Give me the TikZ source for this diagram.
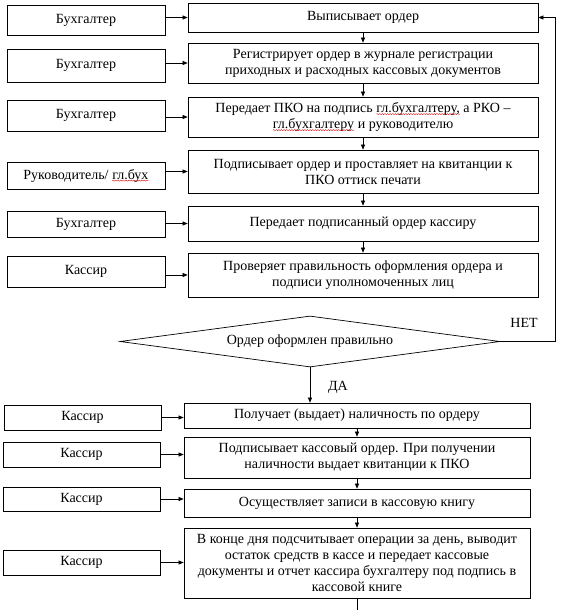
\documentclass[tikz,border=0pt]{standalone}
\usepackage{fontspec}
\setmainfont{Liberation Serif}
\usetikzlibrary{arrows.meta,shapes.geometric,decorations.pathmorphing}
\newcommand{\wavy}[1]{\tikz[baseline=(w.base)]{\node[shape=rectangle,inner sep=0pt,outer sep=0pt,minimum width=0pt,minimum height=0pt,draw=none,anchor=center] (w) at (0,0) {#1};\draw[draw=red!85!black,line width=0.35pt,decorate,decoration={snake,amplitude=0.6pt,segment length=2.6pt}]([yshift=-1.6pt]w.base west)--([yshift=-1.6pt]w.base east);}}
\begin{document}
\begin{tikzpicture}[x=1pt,y=-1pt,
  box/.style={draw=black,line width=0.7pt,inner sep=1pt,align=center,font=\fontsize{14}{16}\selectfont},
  rbox/.style={box,minimum width=350pt},
  rbbox/.style={box,minimum width=346pt},
  lbox/.style={box,minimum width=158pt},
  lbbox/.style={box,minimum width=157pt},
  arr/.style={draw=black,line width=0.6pt,-{Triangle[length=5pt,width=4pt]}},
  ln/.style={draw=black,line width=0.6pt},
  lab/.style={font=\fontsize{14}{16}\selectfont,inner sep=0pt}]
\useasboundingbox (0,0) rectangle (561,610);
% right column, top
\node[rbox,minimum height=29pt] (R1) at (363,17.5) {Выписывает ордер};
\node[rbox,minimum height=40pt] (R2) at (363,63) {Регистрирует ордер в журнале регистрации\\приходных и расходных кассовых документов};
\node[rbox,minimum height=40pt] (R3) at (363,117) {Передает ПКО на подпись \wavy{гл.бухгалтеру,} а РКО –\\\wavy{гл.бухгалтеру} и руководителю};
\node[rbox,minimum height=43pt] (R4) at (363,171.5) {Подписывает ордер и проставляет на квитанции к\\ПКО оттиск печати};
\node[rbox,minimum height=35pt] (R5) at (363,223.5) {Передает подписанный ордер кассиру};
\node[rbox,minimum height=44pt] (R6) at (363,275) {Проверяет правильность оформления ордера и\\подписи уполномоченных лиц};
% left column, top
\node[lbox,minimum height=30pt] (L1) at (86,20) {Бухгалтер};
\node[lbox,minimum height=33pt] (L2) at (86,65.5) {Бухгалтер};
\node[lbox,minimum height=31pt] (L3) at (86,115.5) {Бухгалтер};
\node[lbox,minimum height=27pt] (L4) at (86,175.5) {Руководитель/ \wavy{гл.бух}};
\node[lbox,minimum height=26pt] (L5) at (86,224) {Бухгалтер};
\node[lbox,minimum height=31pt] (L6) at (86,271.5) {Кассир};
% decision
\node[diamond,draw=black,line width=0.7pt,minimum width=380pt,minimum height=51pt,aspect=7.4,inner sep=0pt,font=\fontsize{14}{16}\selectfont] (D) at (310,341.5) {Ордер оформлен правильно};
\node[lab] (net) at (524,323) {НЕТ};
\node[lab] (da) at (338,387) {ДА};
% right column, bottom
\node[rbbox,minimum height=25pt] (R7) at (357,415.5) {Получает (выдает) наличность по ордеру};
\node[rbbox,minimum height=41pt] (R8) at (357,457.5) {Подписывает кассовый ордер. При получении\\наличности выдает квитанции к ПКО};
\node[rbbox,minimum height=28pt] (R9) at (357,503) {Осуществляет записи в кассовую книгу};
\node[rbbox,minimum height=70pt] (R10) at (357,563) {В конце дня подсчитывает операции за день, выводит\\остаток средств в кассе и передает кассовые\\документы и отчет кассира бухгалтеру под подпись в\\кассовой книге};
% left column, bottom
\node[lbbox,minimum height=25pt] (L7) at (82.5,417.5) {Кассир};
\node[lbbox,minimum height=25pt] (L8) at (81.5,454.5) {Кассир};
\node[lbbox,minimum height=24pt] (L9) at (81.5,499) {Кассир};
\node[lbbox,minimum height=25pt] (L10) at (81.5,562.5) {Кассир};
\coordinate (fb) at (555,0);
\coordinate (out) at (357,610);
% horizontal arrows
\draw[arr] (L1.east |- R1.west) -- (R1.west);
\draw[arr] (L2.east |- R2.west) -- (R2.west);
\draw[arr] (L3.east |- R3.west) -- (R3.west);
\draw[arr] (L4.east |- R4.west) -- (R4.west);
\draw[arr] (L5.east |- R5.west) -- (R5.west);
\draw[arr] (L6.east |- R6.west) -- (R6.west);
\draw[arr] (L7.east) -- (L7.east -| R7.west);
\draw[arr] (L8.east) -- (L8.east -| R8.west);
\draw[arr] (L9.east) -- (L9.east -| R9.west);
\draw[arr] (L10.east) -- (L10.east -| R10.west);
% vertical arrows
\draw[arr] (R1.south) -- (R2.north);
\draw[arr] (R2.south) -- (R3.north);
\draw[arr] (R3.south) -- (R4.north);
\draw[arr] (R4.south) -- (R5.north);
\draw[arr] (R5.south) -- (R6.north);
\draw[arr] (D.south) -- (D.south |- R7.north);
\draw[arr] (R7.south) -- (R8.north);
\draw[arr] (R8.south) -- (R9.north);
\draw[arr] (R9.south) -- (R10.north);
\draw[ln] (R10.south) -- (out);
% feedback
\draw[arr] (D.east) -- (D.east -| fb) -- (fb |- R1.east) -- (R1.east);
\end{tikzpicture}
\end{document}
